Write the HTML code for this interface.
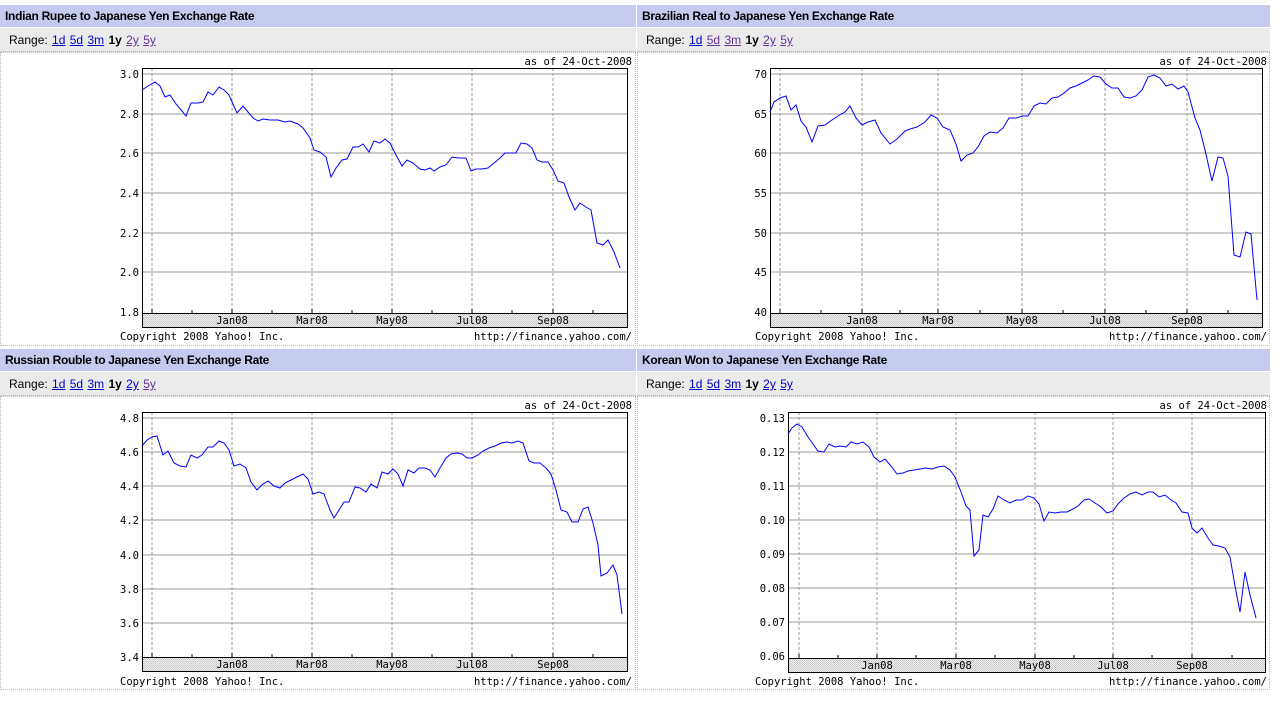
<!DOCTYPE html>
<html><head><meta charset="utf-8"><style>
body{margin:0;width:1280px;height:708px;background:#fff;position:relative;overflow:hidden;font-family:"Liberation Sans",sans-serif}
.t{position:absolute;height:22px;background:#c5cbef;font:bold 12px "Liberation Sans",sans-serif;line-height:22px;padding-left:5px;box-sizing:border-box;letter-spacing:-0.3px}
.r{position:absolute;height:24px;background:#ebebeb;font:12px "Liberation Sans",sans-serif;line-height:24px;padding-left:9px;box-sizing:border-box;border-bottom:1px solid #ccc;word-spacing:1px}
.r a{color:#00c;text-decoration:underline}.r a.v{color:#639}
.c{position:absolute;border:1px dotted #bbb;box-sizing:border-box;background:#fff}
svg{position:absolute;left:0;top:0}
</style></head><body>
<div class="t" style="left:0;top:5px;width:636px">Indian Rupee to Japanese Yen Exchange Rate</div>
<div class="r" style="left:0;top:28px;width:636px">Range: <a>1d</a> <a>5d</a> <a>3m</a> <b>1y</b> <a class="v">2y</a> <a class="v">5y</a></div>
<div class="c" style="left:0;top:52px;width:636px;height:294px"></div>
<div class="t" style="left:637px;top:5px;width:633px">Brazilian Real to Japanese Yen Exchange Rate</div>
<div class="r" style="left:637px;top:28px;width:633px">Range: <a>1d</a> <a class="v">5d</a> <a class="v">3m</a> <b>1y</b> <a class="v">2y</a> <a class="v">5y</a></div>
<div class="c" style="left:637px;top:52px;width:633px;height:294px"></div>
<div class="t" style="left:0;top:349px;width:636px">Russian Rouble to Japanese Yen Exchange Rate</div>
<div class="r" style="left:0;top:372px;width:636px">Range: <a>1d</a> <a>5d</a> <a>3m</a> <b>1y</b> <a>2y</a> <a class="v">5y</a></div>
<div class="c" style="left:0;top:396px;width:636px;height:294px"></div>
<div class="t" style="left:637px;top:349px;width:633px">Korean Won to Japanese Yen Exchange Rate</div>
<div class="r" style="left:637px;top:372px;width:633px">Range: <a>1d</a> <a>5d</a> <a>3m</a> <b>1y</b> <a>2y</a> <a>5y</a></div>
<div class="c" style="left:637px;top:396px;width:633px;height:294px"></div>
<svg width="1280" height="708" font-family="DejaVu Sans Mono,Liberation Mono,monospace" font-size="10.5">
<defs><pattern id="st" width="2" height="2" patternUnits="userSpaceOnUse"><rect width="2" height="2" fill="#f2f2f2"/><rect width="1" height="1" fill="#c8c8c8"/><rect x="1" y="1" width="1" height="1" fill="#c8c8c8"/></pattern></defs>
<g stroke="#999" fill="none">
<path d="M142 74H627M142 114H627M142 153H627M142 193H627M142 233H627M142 272H627"/>
<path stroke-dasharray="3,2" d="M152 68V313M232 68V313M312 68V313M392 68V313M472 68V313M553 68V313"/>
<path d="M770 74H1262M770 114H1262M770 153H1262M770 193H1262M770 233H1262M770 272H1262"/>
<path stroke-dasharray="3,2" d="M780 68V313M862 68V313M938 68V313M1022 68V313M1105 68V313M1187 68V313"/>
<path d="M142 418H627M142 452H627M142 486H627M142 520H627M142 555H627M142 589H627M142 623H627"/>
<path stroke-dasharray="3,2" d="M152 412V657M232 412V657M312 412V657M392 412V657M472 412V657M553 412V657"/>
<path d="M788 418H1265M788 452H1265M788 486H1265M788 520H1265M788 554H1265M788 588H1265M788 622H1265"/>
<path stroke-dasharray="3,2" d="M799 412V658M877 412V658M956 412V658M1035 412V658M1113 412V658M1192 412V658"/>
</g>
<g fill="url(#st)" stroke="#000">
<rect x="142.5" y="313.5" width="485" height="14"/>
<rect x="770.5" y="313.5" width="492" height="14"/>
<rect x="142.5" y="657.5" width="485" height="14"/>
<rect x="788.5" y="658.5" width="477" height="14"/>
</g>
<g fill="none" stroke="#000">
<rect x="142.5" y="68.5" width="485" height="245"/>
<rect x="770.5" y="68.5" width="492" height="245"/>
<rect x="142.5" y="412.5" width="485" height="245"/>
<rect x="788.5" y="412.5" width="477" height="246"/>
<path d="M152 313v-4M192 313v-3M232 313v-4M272 313v-3M312 313v-4M352 313v-3M392 313v-4M432 313v-3M472 313v-4M512 313v-3M553 313v-4M593 313v-3"/>
<path d="M780 313v-4M821 313v-3M862 313v-4M900 313v-3M938 313v-4M980 313v-3M1022 313v-4M1063 313v-3M1105 313v-4M1146 313v-3M1187 313v-4M1228 313v-3"/>
<path d="M152 657v-4M192 657v-3M232 657v-4M272 657v-3M312 657v-4M352 657v-3M392 657v-4M432 657v-3M472 657v-4M512 657v-3M553 657v-4M593 657v-3"/>
<path d="M799 658v-4M838 658v-3M877 658v-4M916 658v-3M956 658v-4M995 658v-3M1035 658v-4M1074 658v-3M1113 658v-4M1152 658v-3M1192 658v-4M1232 658v-3"/>
</g>
<g fill="none" stroke="#00f" stroke-width="1">
<polyline points="142,90 148,86 155,82 160,86 165,97 170,95 176,104 182,111 186,116 191,103 198,103 203,102 208,92 213,95 219,87 224,90 229,95 233,104 237,113 243,106 248,112 253,118 258,121 263,119 270,120 278,120 285,122 290,121 298,124 303,128 310,138 314,150 320,152 326,157 331,177 336,168 342,160 347,159 353,147 358,147 363,144 369,152 374,141 380,143 385,139 390,143 395,153 402,166 407,160 413,163 420,169 425,170 430,168 434,171 440,167 446,165 452,157 458,158 466,158 471,171 476,169 482,169 488,168 494,163 500,158 505,153 510,153 516,153 521,143 527,144 532,148 537,160 542,162 548,162 553,170 558,181 564,183 569,197 575,210 580,203 586,207 591,210 597,243 603,245 608,240 614,252 620,268"/>
<polyline points="770,112 774,102 780,98 786,96 791,110 796,105 801,121 806,127 812,142 818,126 825,125 832,120 838,116 845,112 850,106 856,118 862,125 868,122 875,120 881,133 890,144 897,139 905,131 910,129 917,127 925,122 931,115 937,118 943,127 950,130 956,144 961,161 967,155 973,153 978,147 984,136 990,132 997,133 1003,128 1009,118 1016,118 1023,116 1028,116 1034,106 1040,103 1046,104 1052,98 1058,97 1064,93 1070,88 1076,86 1082,83 1088,80 1094,76 1100,77 1106,84 1112,88 1118,88 1124,97 1130,98 1136,96 1142,90 1148,77 1154,75 1160,78 1166,86 1172,84 1178,89 1184,86 1188,92 1195,118 1200,130 1205,150 1212,181 1218,157 1223,158 1228,176 1234,255 1240,257 1246,232 1251,234 1257,300"/>
<polyline points="142,446 147,440 152,437 157,436 163,455 168,451 174,463 180,466 186,467 191,455 197,458 202,455 208,447 213,447 219,441 224,443 229,450 234,466 240,464 246,468 251,482 257,490 263,484 268,481 274,486 280,488 285,483 291,480 297,477 303,474 308,479 313,494 319,492 324,494 330,510 334,518 339,510 344,502 349,502 355,487 360,488 366,492 371,484 377,488 382,472 388,474 393,469 398,474 403,486 408,470 414,473 419,468 425,468 430,470 435,477 440,468 446,458 451,454 457,453 462,454 467,458 472,458 478,455 483,451 489,448 495,446 501,443 507,442 512,443 518,441 523,443 529,461 534,463 540,463 546,468 551,474 556,490 561,510 567,512 572,522 578,522 583,509 588,507 593,523 598,545 601,576 607,573 613,565 617,575 622,614"/>
<polyline points="788,434 792,428 797,424 802,427 808,437 813,444 818,451 824,452 829,444 835,447 840,446 846,447 851,442 857,444 863,442 869,447 874,457 880,462 885,459 891,466 897,474 903,473 908,471 914,470 920,469 926,468 932,469 938,467 944,466 950,470 955,477 961,492 966,506 970,510 974,556 979,550 983,515 988,517 993,509 998,496 1004,500 1010,503 1016,500 1022,500 1028,496 1034,498 1039,504 1044,521 1049,512 1055,513 1061,512 1067,512 1073,509 1078,506 1084,500 1089,499 1095,503 1101,507 1107,513 1113,511 1118,504 1124,498 1130,494 1136,492 1142,495 1148,492 1153,492 1159,497 1165,495 1171,500 1176,503 1182,512 1188,513 1192,528 1197,533 1202,528 1208,538 1213,545 1219,546 1225,548 1230,557 1235,586 1240,612 1245,572 1250,595 1256,618"/>
</g>
<g fill="#000">
<g text-anchor="end">
<text x="139" y="78">3.0</text><text x="139" y="118">2.8</text><text x="139" y="157">2.6</text><text x="139" y="197">2.4</text><text x="139" y="237">2.2</text><text x="139" y="276">2.0</text><text x="139" y="316">1.8</text>
<text x="767" y="78">70</text><text x="767" y="118">65</text><text x="767" y="157">60</text><text x="767" y="197">55</text><text x="767" y="237">50</text><text x="767" y="276">45</text><text x="767" y="316">40</text>
<text x="139" y="422">4.8</text><text x="139" y="456">4.6</text><text x="139" y="490">4.4</text><text x="139" y="524">4.2</text><text x="139" y="559">4.0</text><text x="139" y="593">3.8</text><text x="139" y="627">3.6</text><text x="139" y="661">3.4</text>
<text x="785" y="422">0.13</text><text x="785" y="456">0.12</text><text x="785" y="490">0.11</text><text x="785" y="524">0.10</text><text x="785" y="558">0.09</text><text x="785" y="592">0.08</text><text x="785" y="626">0.07</text><text x="785" y="660">0.06</text>
<text x="632" y="65">as of 24-Oct-2008</text><text x="1267" y="65">as of 24-Oct-2008</text>
<text x="632" y="409">as of 24-Oct-2008</text><text x="1267" y="409">as of 24-Oct-2008</text>
<text x="632" y="340">http://finance.yahoo.com/</text><text x="1267" y="340">http://finance.yahoo.com/</text>
<text x="632" y="685">http://finance.yahoo.com/</text><text x="1267" y="685">http://finance.yahoo.com/</text>
</g>
<text x="120" y="340">Copyright 2008 Yahoo! Inc.</text><text x="755" y="340">Copyright 2008 Yahoo! Inc.</text>
<text x="120" y="685">Copyright 2008 Yahoo! Inc.</text><text x="755" y="685">Copyright 2008 Yahoo! Inc.</text>
<g text-anchor="middle">
<text x="232" y="324">Jan08</text><text x="312" y="324">Mar08</text><text x="392" y="324">May08</text><text x="472" y="324">Jul08</text><text x="553" y="324">Sep08</text>
<text x="862" y="324">Jan08</text><text x="938" y="324">Mar08</text><text x="1022" y="324">May08</text><text x="1105" y="324">Jul08</text><text x="1187" y="324">Sep08</text>
<text x="232" y="668">Jan08</text><text x="312" y="668">Mar08</text><text x="392" y="668">May08</text><text x="472" y="668">Jul08</text><text x="553" y="668">Sep08</text>
<text x="877" y="669">Jan08</text><text x="956" y="669">Mar08</text><text x="1035" y="669">May08</text><text x="1113" y="669">Jul08</text><text x="1192" y="669">Sep08</text>
</g>
</g>
</svg>
</body></html>
